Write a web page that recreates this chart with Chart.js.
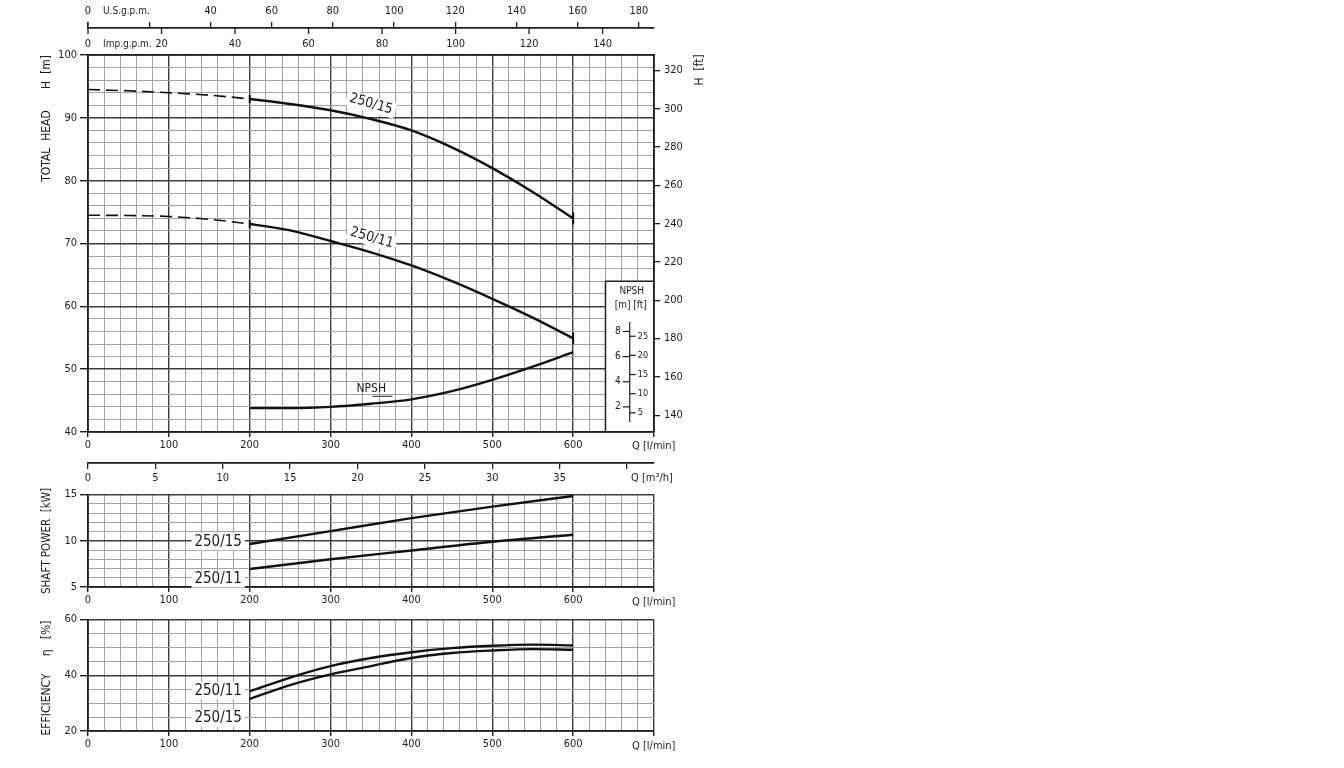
<!DOCTYPE html>
<html><head><meta charset="utf-8">
<script src="https://cdn.jsdelivr.net/npm/chart.js@4.4.1/dist/chart.umd.min.js"></script>
<style>
html,body{margin:0;padding:0;background:#fff;}
#wrap{position:relative;width:1344px;height:768px;overflow:hidden;background:#fff;}
canvas{position:absolute;left:0;}
</style></head><body>
<div id="wrap">
<canvas id="c1" width="720" height="490" style="top:0px"></canvas>
<canvas id="c2" width="720" height="125" style="top:485px"></canvas>
<canvas id="c3" width="720" height="158" style="top:610px"></canvas>
</div>
<script>
// ---------- DATA ----------
const flowHead   = [0, 50, 100, 150, 200, 250, 300, 350, 400, 450, 500, 550, 600];
const head250_15 = [94.5, 94.3, 94.0, 93.6, 93.0, 92.2, 91.2, 89.8, 88.0, 85.3, 82.0, 78.2, 74.0];
const head250_11 = [74.5, 74.45, 74.3, 73.85, 73.1, 72.1, 70.4, 68.6, 66.5, 64.0, 61.2, 58.2, 54.9];
const flowNpsh   = [200, 250, 300, 350, 400, 450, 500, 550, 600];
const npshM      = [1.9, 1.9, 2.0, 2.25, 2.6, 3.25, 4.15, 5.2, 6.35];
const flowPower  = [200, 300, 400, 500, 600];
const power250_15 = [9.65, 11.05, 12.45, 13.7, 14.85];
const power250_11 = [6.95, 8.0, 8.95, 9.9, 10.65];
const flowEff    = [200, 250, 300, 350, 400, 450, 500, 550, 600];
const eff250_11  = [34.2, 39.2, 43.3, 46.2, 48.3, 49.75, 50.6, 51.0, 50.7];
const eff250_15  = [31.5, 36.5, 40.35, 43.3, 46.2, 48.0, 48.9, 49.4, 49.2];
const qTicksLmin   = [0, 100, 200, 300, 400, 500, 600];
const qTicksM3h    = [0, 5, 10, 15, 20, 25, 30, 35, 40];
const usGpmTicks   = [0, 20, 40, 60, 80, 100, 120, 140, 160, 180];
const impGpmTicks  = [0, 20, 40, 60, 80, 100, 120, 140];
const headFtTicks  = [140, 160, 180, 200, 220, 240, 260, 280, 300, 320];
const npshMTicks   = [2, 4, 6, 8];
const npshFtTicks  = [5, 10, 15, 20, 25];

// ---------- STYLE ----------
const FONT = "'Liberation Sans Narrow','Arial Narrow','DejaVu Sans Condensed','Liberation Sans',sans-serif";
const TXT = '#1c1c1c', FRAME = '#1e1e1e', MINOR = '#a3a3a3', MAJOR = '#3c3c3c', CURVE = '#111';
Chart.defaults.font.family = FONT;
Chart.defaults.font.size = 11;
Chart.defaults.color = TXT;
const LMIN_PER_USGPM = 3.785411784, LMIN_PER_IMPGPM = 4.54609, LMIN_PER_M3H = 1000 / 60, FT_PER_M = 3.28084;

function xy(xs, ys) { return xs.map((x, i) => ({x: x, y: ys[i]})); }
function txt(ctx, s, x, y, o) {
  o = o || {};
  ctx.save(); ctx.translate(x, y); ctx.rotate((o.rot || 0) * Math.PI / 180);
  ctx.font = (o.size || 11) + 'px ' + FONT;
  ctx.textAlign = o.align || 'center'; ctx.textBaseline = 'middle';
  if (o.bg) {
    const w = ctx.measureText(s).width, h = (o.size || 11);
    const x0 = (o.align === 'left') ? -3 : -w / 2 - 3;
    ctx.fillStyle = '#fff'; ctx.fillRect(x0, -h / 2 - 1, w + 6, h + 2);
  }
  ctx.fillStyle = TXT; ctx.fillText(s, 0, 0); ctx.restore();
}
function line(ctx, x1, y1, x2, y2, w, c) {
  ctx.save(); ctx.strokeStyle = c || FRAME; ctx.lineWidth = w || 1;
  ctx.beginPath(); ctx.moveTo(x1, y1); ctx.lineTo(x2, y2); ctx.stroke(); ctx.restore();
}
function qAxis(h) {
  const maj = c => c.tick && Math.round(c.tick.value) % 100 === 0;
  return {
    type: 'linear', position: 'bottom', weight: 0, min: 0, max: 700,
    ticks: {stepSize: 20, autoSkip: false, maxRotation: 0, padding: 2,
            callback: v => qTicksLmin.includes(v) ? String(v) : ''},
    grid: {color: c => maj(c) ? MAJOR : MINOR, lineWidth: c => maj(c) ? 1.4 : 1,
           tickColor: c => maj(c) ? FRAME : 'rgba(0,0,0,0)', tickLength: 5},
    border: {display: true, color: FRAME, width: 1.8},
    afterFit: s => { s.height = h; }
  };
}
function yAxis(min, max, step, majorEvery) {
  const maj = c => c.tick && Math.abs(c.tick.value % majorEvery) < 1e-6;
  return {
    type: 'linear', position: 'left', min: min, max: max,
    ticks: {stepSize: step, autoSkip: false, padding: 3,
            callback: v => Math.abs(v % majorEvery) < 1e-6 ? String(v) : ''},
    grid: {color: c => maj(c) ? MAJOR : MINOR, lineWidth: c => maj(c) ? 1.4 : 1,
           tickColor: c => maj(c) ? FRAME : 'rgba(0,0,0,0)', tickLength: 8},
    border: {display: true, color: FRAME, width: 1.8},
    afterFit: s => { s.width = 88; }
  };
}
function curve(data, extra) {
  return Object.assign({data: data, borderColor: CURVE, borderWidth: 2.4, pointRadius: 0,
    pointHoverRadius: 0, cubicInterpolationMode: 'monotone', fill: false, xAxisID: 'x', yAxisID: 'y'}, extra || {});
}
const headMarker = {
  pointStyle: 'line', pointRotation: 90, pointBorderColor: CURVE, pointBorderWidth: 2,
  pointRadius: c => { const q = flowHead[c.dataIndex]; return q === 200 ? 4 : (q === 600 ? 6 : 0); },
  segment: {borderDash: c => c.p1.parsed.x <= 200 ? [12, 6] : undefined, borderWidth: c => c.p1.parsed.x <= 200 ? 1.6 : 2.4}
};
const common = {
  responsive: false, animation: false, devicePixelRatio: 1,
  plugins: {legend: {display: false}, tooltip: {enabled: false}}
};

// ---------- CHART 1 : HEAD ----------
const headDeco = {
  id: 'headDeco',
  beforeDatasetsDraw(chart) {
    const ctx = chart.ctx, a = chart.chartArea, S = chart.scales;
    // NPSH inset
    const bx = S.x.getPixelForValue(640), by = S.y.getPixelForValue(64);
    ctx.save(); ctx.fillStyle = '#fff'; ctx.fillRect(bx, by, a.right - bx - 1, a.bottom - by - 1); ctx.restore();
    line(ctx, bx, by, bx, a.bottom, 1.5); line(ctx, bx, by, a.right, by, 1.5);
    const ax = S.x.getPixelForValue(670);
    line(ctx, ax, S.yN.getPixelForValue(8.75), ax, S.yN.getPixelForValue(0.8), 1.2);
    npshMTicks.forEach(v => { const y = S.yN.getPixelForValue(v); line(ctx, ax - 7, y, ax, y, 1.2); txt(ctx, String(v), ax - 9, y, {align: 'right', size: 10}); });
    npshFtTicks.forEach(v => { const y = S.yN.getPixelForValue(v / FT_PER_M); line(ctx, ax, y, ax + 6, y, 1.2); txt(ctx, String(v), ax + 8, y, {align: 'left', size: 9}); });
    txt(ctx, 'NPSH', ax + 2, by + 10, {size: 10});
    txt(ctx, '[m] [ft]', ax + 1, by + 24, {size: 10});
  },
  afterDraw(chart) {
    const ctx = chart.ctx, S = chart.scales;
    // Imp. gpm tick marks hang below the U.S. gpm line
    const yl = S.xUS.bottom;
    impGpmTicks.forEach(v => { const x = S.xImp.getPixelForValue(v); line(ctx, x, v === 0 ? yl - 6 : yl, x, yl + 6, 1.3); });
    txt(ctx, 'U.S.g.p.m.', 103, 11, {align: 'left', size: 10});
    txt(ctx, 'Imp.g.p.m.', 103, 44, {align: 'left', size: 10});
    txt(ctx, 'Q [l/min]', 632, 446, {align: 'left', size: 11});
    txt(ctx, 'Q [m³/h]', 631, 478, {align: 'left', size: 11});
    txt(ctx, 'H  [m]', 47, 72, {rot: -90, size: 12});
    txt(ctx, 'TOTAL  HEAD', 47, 146, {rot: -90, size: 12});
    txt(ctx, 'H  [ft]', 700, 70, {rot: -90, size: 12});
  },
  afterDatasetsDraw(chart) {
    const ctx = chart.ctx, S = chart.scales;
    txt(ctx, '250/15', S.x.getPixelForValue(350), S.y.getPixelForValue(92.2), {rot: 16, size: 14, bg: true});
    txt(ctx, '250/11', S.x.getPixelForValue(351), S.y.getPixelForValue(70.9), {rot: 16, size: 14, bg: true});
    const nx = S.x.getPixelForValue(332), ny = S.y.getPixelForValue(46.8);
    txt(ctx, 'NPSH', nx, ny, {align: 'left', size: 12});
    line(ctx, nx + 16, ny + 7, nx + 36, ny + 7, 1);
  }
};

new Chart(document.getElementById('c1'), {
  type: 'line',
  data: {datasets: [
    curve(xy(flowHead, head250_15), headMarker),
    curve(xy(flowHead, head250_11), headMarker),
    curve(xy(flowNpsh, npshM), {yAxisID: 'yN'})
  ]},
  options: Object.assign({}, common, {
    scales: {
      x: qAxis(31),
      xM3: {
        type: 'linear', position: 'bottom', weight: 1, min: 0, max: 700 / LMIN_PER_M3H,
        afterBuildTicks: s => { s.ticks = qTicksM3h.map(v => ({value: v})); },
        ticks: {autoSkip: false, maxRotation: 0, padding: 3, callback: v => v === 40 ? '' : String(v)},
        grid: {drawOnChartArea: false, tickLength: 6, tickColor: FRAME, lineWidth: 1.3},
        border: {display: true, color: FRAME, width: 1.8},
        afterFit: s => { s.height = 27; }
      },
      xUS: {
        type: 'linear', position: 'top', weight: 2, min: 0, max: 700 / LMIN_PER_USGPM,
        afterBuildTicks: s => { s.ticks = usGpmTicks.map(v => ({value: v})); },
        ticks: {autoSkip: false, maxRotation: 0, padding: 4, callback: v => v === 20 ? '' : String(v)},
        grid: {drawOnChartArea: false, tickLength: 6, tickColor: FRAME, lineWidth: 1.3},
        border: {display: true, color: FRAME, width: 1.8},
        afterFit: s => { s.height = 28; }
      },
      xImp: {
        type: 'linear', position: 'top', weight: 1, min: 0, max: 700 / LMIN_PER_IMPGPM,
        afterBuildTicks: s => { s.ticks = impGpmTicks.map(v => ({value: v})); },
        ticks: {autoSkip: false, maxRotation: 0, padding: 4, callback: v => String(v)},
        grid: {drawOnChartArea: false, drawTicks: false},
        border: {display: true, color: FRAME, width: 1.8},
        afterFit: s => { s.height = 27; }
      },
      y: yAxis(40, 100, 2, 10),
      yFt: {
        type: 'linear', position: 'right', min: 40 * FT_PER_M, max: 100 * FT_PER_M,
        afterBuildTicks: s => { s.ticks = headFtTicks.map(v => ({value: v})); },
        ticks: {autoSkip: false, padding: 4},
        grid: {drawOnChartArea: false, tickLength: 6, tickColor: FRAME, lineWidth: 1.3},
        border: {display: true, color: FRAME, width: 1.8},
        afterFit: s => { s.width = 66; }
      },
      yN: {type: 'linear', display: false, min: 0, max: 30}
    }
  }),
  plugins: [headDeco]
});

// ---------- CHART 2 : SHAFT POWER ----------
const powerDeco = {
  id: 'powerDeco',
  afterDatasetsDraw(chart) {
    const ctx = chart.ctx, S = chart.scales;
    txt(ctx, '250/15', S.x.getPixelForValue(161), S.y.getPixelForValue(9.9), {size: 15, bg: true});
    txt(ctx, '250/11', S.x.getPixelForValue(161), S.y.getPixelForValue(5.85), {size: 15, bg: true});
    txt(ctx, 'Q [l/min]', 632, 117, {align: 'left', size: 11});
    txt(ctx, 'SHAFT POWER  [kW]', 47, 56, {rot: -90, size: 11.5});
  }
};
new Chart(document.getElementById('c2'), {
  type: 'line',
  data: {datasets: [
    curve(xy(flowPower, power250_15)),
    curve(xy(flowPower, power250_11))
  ]},
  options: Object.assign({}, common, {
    layout: {padding: {top: 8, right: 66, left: 0, bottom: 0}},
    scales: {x: qAxis(23), y: yAxis(5, 15, 1, 5)}
  }),
  plugins: [powerDeco]
});

// ---------- CHART 3 : EFFICIENCY ----------
const effDeco = {
  id: 'effDeco',
  afterDatasetsDraw(chart) {
    const ctx = chart.ctx, S = chart.scales;
    txt(ctx, '250/11', S.x.getPixelForValue(161), S.y.getPixelForValue(34.5), {size: 15, bg: true});
    txt(ctx, '250/15', S.x.getPixelForValue(161), S.y.getPixelForValue(24.6), {size: 15, bg: true});
    txt(ctx, 'Q [l/min]', 632, 136, {align: 'left', size: 11});
    txt(ctx, 'EFFICIENCY     η   [%]', 47, 68, {rot: -90, size: 12});
  }
};
new Chart(document.getElementById('c3'), {
  type: 'line',
  data: {datasets: [
    curve(xy(flowEff, eff250_11)),
    curve(xy(flowEff, eff250_15))
  ]},
  options: Object.assign({}, common, {
    layout: {padding: {top: 8, right: 66, left: 0, bottom: 0}},
    scales: {x: qAxis(37), y: yAxis(20, 60, 5, 20)}
  }),
  plugins: [effDeco]
});
</script>
</body></html>
